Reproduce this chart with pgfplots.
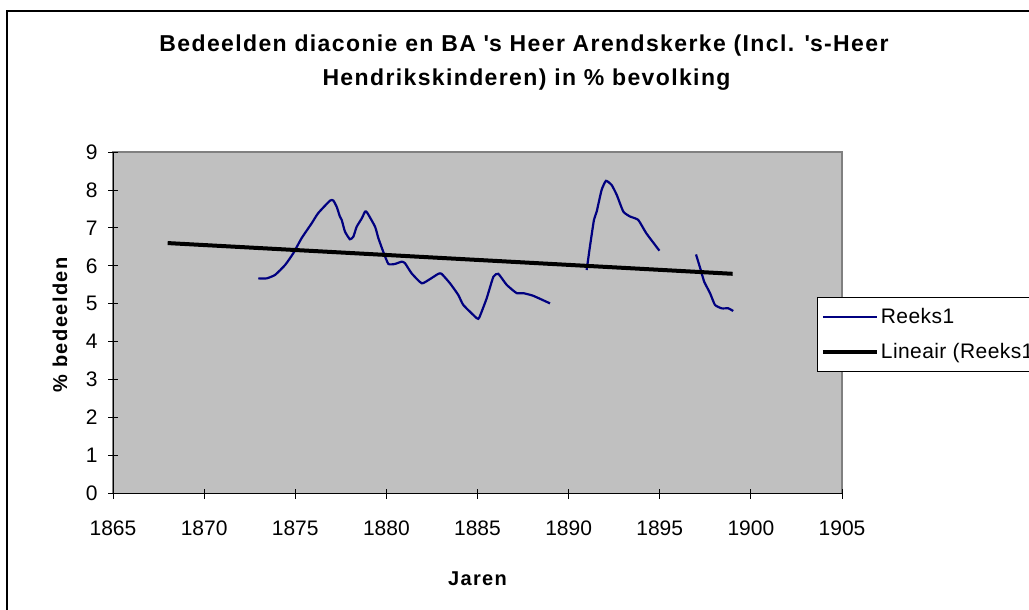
\documentclass[border=0pt]{standalone}
\usepackage{fontspec}
\setmainfont{Liberation Sans}
\newfontfamily\spacedfont[LetterSpace=6]{Liberation Sans}
\newfontfamily\labelfont[LetterSpace=7]{Liberation Sans}
\newfontfamily\legfont[LetterSpace=2]{Liberation Sans}
\usepackage{pgfplots}
\pgfplotsset{compat=1.18}
\definecolor{plotgray}{HTML}{C0C0C0}
\definecolor{navyline}{HTML}{000080}
\definecolor{bordergray}{HTML}{808080}

\begin{document}
\begin{tikzpicture}
\begin{axis}[
  at={(113pt,-493.5pt)}, anchor=south west,
  scale only axis, width=729pt, height=341.5pt,
  xmin=1865, xmax=1905, ymin=0, ymax=9,
  xtick={1865,1870,...,1905}, ytick={0,1,...,9},
  axis lines*=left,
  axis line style={black, line width=1pt},
  axis background/.style={fill=plotgray, draw=bordergray, line width=1.2pt},
  tick align=center, major tick length=10pt,
  tick style={black, line width=0.8pt},
  /pgf/number format/assume math mode=true,
  xticklabel style={/pgf/number format/1000 sep={}, yshift=-19pt},
  yticklabel style={xshift=-7pt},
  tick label style={font=\fontsize{21}{25}\selectfont},
  xlabel={Jaren}, ylabel={\% bedeelden},
  label style={font=\labelfont\bfseries\fontsize{20}{24}\selectfont},
  xlabel style={at={(axis description cs:0.5,-0.268)}, anchor=base},
  ylabel style={at={(axis description cs:-0.0727,0.4934)}, anchor=center},
  legend style={at={(0.9653,0.5745)}, anchor=north west, draw=black, fill=white,
    font=\legfont\fontsize{21}{25}\selectfont, inner xsep=4pt, inner ysep=9pt, row sep=14pt},
  legend cell align=left,
  legend image code/.code={\draw[#1] (0pt,0pt) -- (54pt,0pt);},
]
\addplot[navyline, line width=2.2pt, smooth, tension=0.3] coordinates {
(1872.97,5.67) (1873.43,5.67) (1873.89,5.76) (1874.44,6.02) (1874.89,6.33)
(1875.35,6.73) (1875.90,7.12) (1876.26,7.39) (1876.91,7.72) (1877.09,7.72)
(1877.27,7.56) (1877.45,7.30) (1877.55,7.21) (1877.73,6.90) (1878.00,6.70)
(1878.19,6.77) (1878.37,7.03) (1878.65,7.25) (1878.83,7.43) (1878.95,7.40)
(1879.38,7.03) (1879.56,6.73) (1879.83,6.37) (1880.11,6.05) (1880.47,6.05)
(1880.84,6.11) (1881.02,6.07) (1881.39,5.80) (1881.94,5.54) (1882.39,5.65)
(1882.85,5.79) (1883.03,5.79) (1883.49,5.54) (1883.95,5.23) (1884.22,4.97)
(1884.96,4.62) (1885.10,4.64) (1885.50,5.14) (1885.87,5.71) (1886.14,5.79)
(1886.60,5.50) (1887.15,5.28) (1887.51,5.28) (1888.06,5.21) (1888.98,5.01)
};
\addlegendentry{Reeks1}
\addplot[navyline, line width=2.2pt, smooth, tension=0.3, forget plot] coordinates {
(1890.99,5.89) (1891.17,6.51) (1891.39,7.21) (1891.54,7.43) (1891.81,8.00)
(1892.05,8.24) (1892.36,8.13) (1892.64,7.87) (1893.00,7.43) (1893.37,7.30)
(1893.82,7.21) (1894.26,6.86) (1894.98,6.40)
};
\addplot[navyline, line width=2.2pt, smooth, tension=0.3, forget plot] coordinates {
(1896.99,6.30) (1897.25,5.89) (1897.44,5.58) (1897.76,5.28) (1898.03,4.97)
(1898.40,4.88) (1898.76,4.88) (1899.03,4.81)
};
\addplot[black, line width=4pt] coordinates {(1868,6.60) (1899,5.79)};
\addlegendentry{Lineair (Reeks1)}
\end{axis}
\node[anchor=base, font=\spacedfont\bfseries\fontsize{23}{27}\selectfont] at (524pt,-51.7pt)
  {Bedeelden diaconie en BA \textquotesingle s Heer Arendskerke (Incl. \textquotesingle s-Heer};
\node[anchor=base, font=\spacedfont\bfseries\fontsize{23}{27}\selectfont] at (526.5pt,-85pt)
  {Hendrikskinderen) in \% bevolking};
\draw[black, line width=1.3pt] (7pt,-620pt) -- (7pt,-11pt) -- (1040pt,-11pt);
\pgfresetboundingbox
\useasboundingbox (0pt,0pt) rectangle (1029pt,-610pt);
\end{tikzpicture}
\end{document}
